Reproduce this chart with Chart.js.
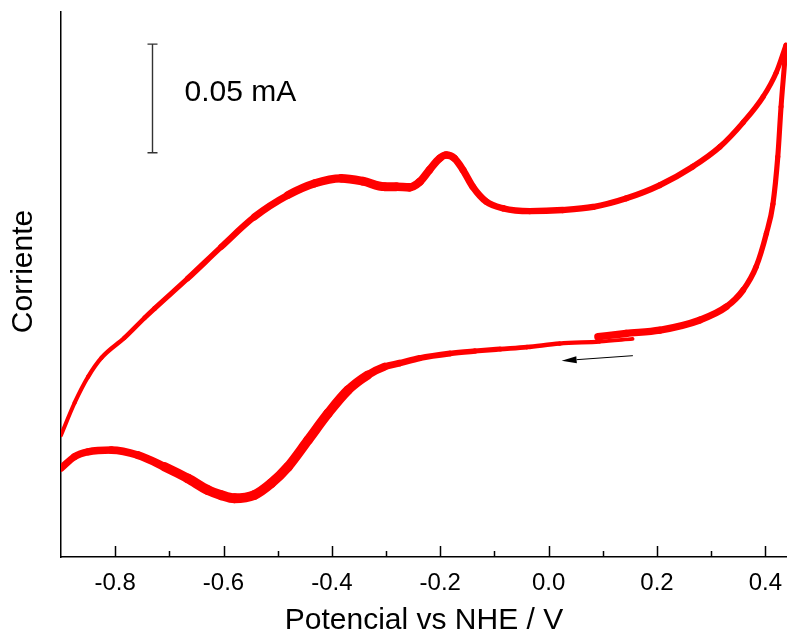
<!DOCTYPE html>
<html lang="es">
<head>
<meta charset="UTF-8">
<title>Voltamperograma ciclico</title>
<script src="https://cdn.jsdelivr.net/npm/chart.js"></script>
<style>
    html, body { margin: 0; padding: 0; background: #fff; }
    #wrap { width: 787px; height: 639px; }
</style>
</head>
<body>
<div id="wrap"><canvas id="cvChart" width="787" height="639"></canvas></div>
<script>
// Values. Potential in V vs NHE, current in uA (arbitrary zero).
// First sweep: start near 0.15 V, going negative
const cathodicPotential = [0.155, 0.094, 0.020, -0.040, -0.090, -0.136, -0.182, -0.238, -0.275, -0.303,
    -0.334, -0.370, -0.407, -0.444, -0.481, -0.512, -0.543, -0.580, -0.604, -0.629,
    -0.666, -0.709, -0.758, -0.807, -0.850, -0.875, -0.900];
const cathodicCurrent = [0.5, -0.7, -1.6, -3.2, -4.1, -5.0, -6.1, -8.2, -10.5, -12.1,
    -15.9, -22.7, -33.3, -45.5, -57.6, -65.1, -70.4, -71.9, -70.5, -68.2,
    -62.9, -57.6, -52.3, -50.0, -50.8, -53.0, -58.3];

// Second sweep: -0.9 V up to the switching potential
const anodicPotential = [-0.900, -0.875, -0.850, -0.825, -0.783, -0.746, -0.727, -0.666, -0.604, -0.543,
    -0.481, -0.432, -0.383, -0.343, -0.303, -0.281, -0.257, -0.238, -0.220, -0.201,
    -0.189, -0.174, -0.158, -0.140, -0.115, -0.084, -0.035, 0.026, 0.082, 0.143,
    0.205, 0.266, 0.316, 0.359, 0.396, 0.420, 0.438];
const anodicCurrent = [-43.2, -28.6, -16.7, -8.0, 1.0, 10.0, 14.4, 28.0, 42.4, 56.0,
    65.9, 71.2, 73.5, 72.2, 69.7, 69.7, 69.4, 71.9, 77.3, 82.6,
    84.1, 82.6, 77.3, 69.7, 62.9, 59.9, 58.6, 59.1, 60.5, 64.4,
    70.4, 78.8, 87.8, 98.9, 110.6, 121.5, 134.0];

// Third sweep: back from 0.44 V to the end
const reversePotential = [0.438, 0.436, 0.429, 0.423, 0.414, 0.402, 0.383, 0.359, 0.328, 0.279, 0.205, 0.143, 0.091];
const reverseCurrent = [134.0, 127.3, 106.0, 83.3, 61.8, 48.5, 33.3, 22.7, 15.1, 9.1, 4.5, 3.0, 1.5];

const xMin = -0.9, xMax = 0.44;
const yMin = -98.6, yMax = 149.1;

// 0.05 mA scale bar and scan direction arrow
const scaleBarPotential = -0.732;
const scaleBarCurrent = [85.1, 134.5];
const scaleBarLabel = '0.05 mA';
const scaleLabelPotential = -0.672;
const scaleLabelCurrent = 112.5;
const arrowPotential = [0.1555, 0.024];
const arrowCurrent = [-7.1, -9.4];

const FONT = '"Liberation Sans", Arial, Helvetica, sans-serif';

function toPoints(xs, ys) {
    return xs.map((x, i) => ({x: x, y: ys[i]}));
}

// the trace gets thicker where the recorded cycles overlap; width follows potential
function widthAlong(anchorX, anchorW) {
    return function (ctx) {
        const x = (ctx.p0.parsed.x + ctx.p1.parsed.x) / 2;
        for (let i = 0; i < anchorX.length - 1; i++) {
            const a = anchorX[i], b = anchorX[i + 1];
            if ((x - a) * (x - b) <= 0) {
                const t = (x - a) / (b - a);
                return anchorW[i] + t * (anchorW[i + 1] - anchorW[i]);
            }
        }
        return anchorW[anchorW.length - 1];
    };
}

function sweep(label, xs, ys, widthFn) {
    return {
        label: label,
        data: toPoints(xs, ys),
        showLine: true,
        borderColor: '#ff0000',
        borderWidth: 5,
        borderCapStyle: 'round',
        borderJoinStyle: 'round',
        pointRadius: 0,
        cubicInterpolationMode: 'monotone',
        clip: 0,
        segment: { borderWidth: widthFn }
    };
}

// inward tick marks, scale bar, arrow, y title
const decorations = {
    id: 'decorations',
    afterDraw(chart) {
        const ctx = chart.ctx;
        const xs = chart.scales.x, ys = chart.scales.y;
        const axisY = chart.chartArea.bottom;

        ctx.save();
        ctx.strokeStyle = '#000';
        ctx.lineWidth = 1.5;
        xs.ticks.forEach(t => {
            const k = Math.round(t.value * 10);
            if (Math.abs(t.value * 10 - k) > 1e-6 || k <= -9 || k > 4) return;
            const px = Math.round(xs.getPixelForValue(t.value)) + 0.5;
            const len = (k % 2 === 0) ? 11 : 6;
            ctx.beginPath();
            ctx.moveTo(px, axisY);
            ctx.lineTo(px, axisY - len);
            ctx.stroke();
        });

        // scale bar
        const bx = Math.round(xs.getPixelForValue(scaleBarPotential)) + 0.5;
        const by0 = ys.getPixelForValue(scaleBarCurrent[0]);
        const by1 = ys.getPixelForValue(scaleBarCurrent[1]);
        ctx.strokeStyle = '#333';
        ctx.lineWidth = 1.4;
        ctx.beginPath();
        ctx.moveTo(bx, by0); ctx.lineTo(bx, by1);
        ctx.moveTo(bx - 5, by0); ctx.lineTo(bx + 5, by0);
        ctx.moveTo(bx - 5, by1); ctx.lineTo(bx + 5, by1);
        ctx.stroke();

        ctx.fillStyle = '#000';
        ctx.font = '30px ' + FONT;
        ctx.textAlign = 'left';
        ctx.textBaseline = 'middle';
        ctx.fillText(scaleBarLabel, xs.getPixelForValue(scaleLabelPotential), ys.getPixelForValue(scaleLabelCurrent));

        // arrow
        const ax0 = xs.getPixelForValue(arrowPotential[0]), ay0 = ys.getPixelForValue(arrowCurrent[0]);
        const ax1 = xs.getPixelForValue(arrowPotential[1]), ay1 = ys.getPixelForValue(arrowCurrent[1]);
        const ang = Math.atan2(ay1 - ay0, ax1 - ax0);
        const headLen = 15, headHalf = 3.5;
        const bxh = ax1 - headLen * Math.cos(ang), byh = ay1 - headLen * Math.sin(ang);
        ctx.strokeStyle = '#000';
        ctx.lineWidth = 1;
        ctx.beginPath();
        ctx.moveTo(ax0, ay0); ctx.lineTo(bxh, byh);
        ctx.stroke();
        ctx.beginPath();
        ctx.moveTo(ax1, ay1);
        ctx.lineTo(bxh + headHalf * Math.sin(ang), byh - headHalf * Math.cos(ang));
        ctx.lineTo(bxh - headHalf * Math.sin(ang), byh + headHalf * Math.cos(ang));
        ctx.closePath();
        ctx.fill();

        // y axis title
        ctx.translate(24, 271.5);
        ctx.rotate(-Math.PI / 2);
        ctx.textAlign = 'center';
        ctx.fillText('Corriente', 0, 0);
        ctx.restore();
    }
};

new Chart(document.getElementById('cvChart'), {
    type: 'scatter',
    data: {
        datasets: [
            sweep('barrido 1', cathodicPotential, cathodicCurrent,
                widthAlong([0.16, 0.1, -0.1, -0.28, -0.36, -0.66, -0.75, -0.9], [3.5, 4, 5, 6.5, 9.5, 10, 8, 7])),
            sweep('barrido 2', anodicPotential, anodicCurrent,
                widthAlong([-0.9, -0.78, -0.6, -0.45, -0.3, -0.2, -0.1, 0.25, 0.44], [4, 4.5, 6, 8, 9, 7.5, 6.5, 6, 5])),
            sweep('barrido 3', reversePotential, reverseCurrent,
                widthAlong([0.44, 0.38, 0.3, 0.09], [5, 5.5, 7, 7.5]))
        ]
    },
    options: {
        responsive: false,
        animation: false,
        layout: { autoPadding: false, padding: { top: 12, left: 0, right: 0, bottom: 0 } },
        plugins: {
            legend: { display: false },
            tooltip: { enabled: false }
        },
        scales: {
            x: {
                type: 'linear',
                min: xMin,
                max: xMax,
                grid: { display: false, drawTicks: false },
                border: { display: true, color: '#000', width: 1.5 },
                ticks: {
                    stepSize: 0.1,
                    includeBounds: false,
                    autoSkip: false,
                    maxRotation: 0,
                    padding: 12,
                    color: '#000',
                    font: { family: FONT, size: 24 },
                    callback: function (v) {
                        const k = Math.round(v * 10);
                        if (Math.abs(v * 10 - k) > 1e-6 || k % 2 !== 0 || k < -8 || k > 4) return '';
                        return (k / 10).toFixed(1);
                    }
                },
                title: {
                    display: true,
                    text: 'Potencial vs NHE / V',
                    color: '#000',
                    font: { family: FONT, size: 30, lineHeight: 1.2 },
                    padding: { top: 0, bottom: 0 }
                },
                afterFit: function (scale) {
                    scale.height = 82;
                    scale.paddingLeft = 0;
                    scale.paddingRight = 0;
                }
            },
            y: {
                type: 'linear',
                min: yMin,
                max: yMax,
                grid: { display: false, drawTicks: false },
                border: { display: true, color: '#000', width: 1.5 },
                ticks: { display: false },
                afterFit: function (scale) { scale.width = 61; }
            }
        }
    },
    plugins: [decorations]
});
</script>
</body>
</html>
